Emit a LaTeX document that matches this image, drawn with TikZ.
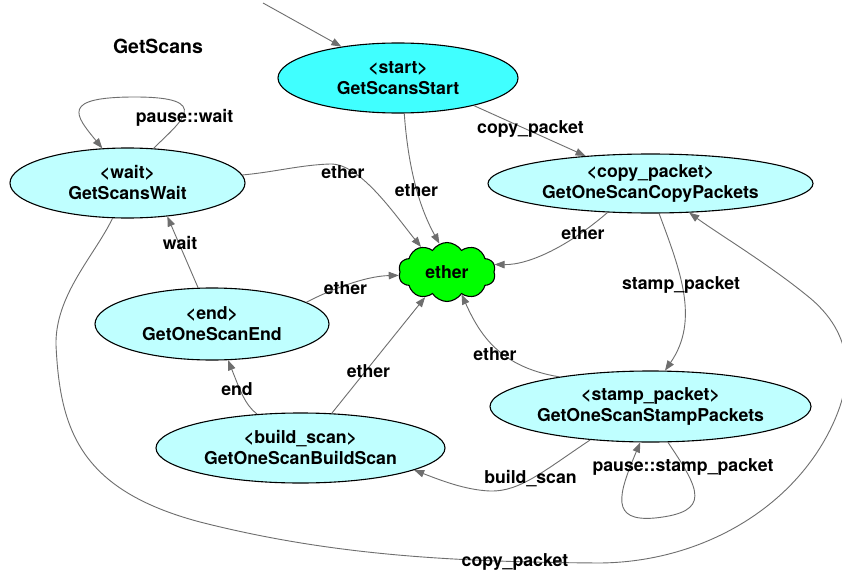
\documentclass[tikz,border=0pt]{standalone}
\usepackage{fontspec}
\setmainfont{TeX Gyre Heros}
\usetikzlibrary{shapes.geometric,shapes.symbols,arrows.meta}
\definecolor{startfill}{RGB}{64,255,255}
\definecolor{statefill}{RGB}{191,255,255}
\definecolor{etherfill}{RGB}{0,255,0}
\definecolor{edgegray}{RGB}{110,110,110}
\tikzset{
  state/.style={ellipse, draw=black, line width=1.1pt, fill=statefill, inner sep=0pt, align=center,
    font=\fontsize{17.7}{21}\selectfont\bfseries},
  edge/.style={draw=edgegray, line width=0.9pt, -{Triangle[length=10pt,width=7.5pt]}},
  lbl/.style={font=\fontsize{17.7}{21}\selectfont\bfseries, inner sep=0pt},
}
\begin{document}
\begin{tikzpicture}[x=1pt,y=-1pt]
\useasboundingbox (0,0) rectangle (842,575);
\fill[white] (0,0) rectangle (842,575);

\node[lbl, font=\fontsize{19.5}{23}\selectfont\bfseries] (title) at (158,46) {GetScans};

\node[state, fill=startfill, minimum width=240pt, minimum height=70pt] (start) at (398,78) {<start>\\GetScansStart};
\node[state, minimum width=235pt, minimum height=70pt] (wait) at (127.5,183) {<wait>\\GetScansWait};
\node[state, minimum width=325pt, minimum height=59pt] (copy) at (650.5,183.5) {<copy\_packet>\\GetOneScanCopyPackets};
\node[state, minimum width=234pt, minimum height=72pt] (end) at (212,324) {<end>\\GetOneScanEnd};
\node[state, minimum width=289pt, minimum height=70pt] (build) at (300.5,448) {<build\_scan>\\GetOneScanBuildScan};
\node[state, minimum width=305pt, minimum height=71pt] (stamp) at (650.5,406.5) {<stamp\_packet>\\GetOneScanStampPackets};
\node[cloud, cloud puffs=10, cloud puff arc=115, aspect=1.64, draw=black, line width=1.1pt, fill=etherfill,
      minimum width=97pt, minimum height=59pt, inner sep=0pt,
      font=\fontsize{17.7}{21}\selectfont\bfseries] (ether) at (447,272) {ether};

\coordinate (in) at (263,3);
\draw[edge] (in) -- (start.151);

% wait self loop
\draw[edge] (wait.53) .. controls (180,122) and (215,97) .. (135,97) .. controls (60,97) and (75,115) .. (wait.126);
\node[lbl] (l1) at (184.5,118) {pause::wait};

% wait -> ether
\draw[edge] (wait.4) .. controls (275,172) and (300,165) .. (330,164) .. controls (360,163) and (395,215) .. (ether.136);
\node[lbl] (l2) at (343,172) {ether};

% start -> ether
\draw[edge] (start.-80) .. controls (408,165) and (418,205) .. (ether.105);
\node[lbl] (l3) at (416.5,190) {ether};

% start -> copy
\draw[edge] (start.-20) -- (copy.157);
\node[lbl] (l4) at (530.5,129) {copy\_packet};

% copy -> ether
\draw[edge] (copy.-146) .. controls (570,245) and (530,265) .. (ether.9);
\node[lbl] (l5) at (583,233) {ether};

% copy -> stamp
\draw[edge] (copy.-74) .. controls (680,270) and (700,320) .. (stamp.68);
\node[lbl] (l6) at (681,285) {stamp\_packet};

% end -> wait
\draw[edge] (end.111) -- (wait.-40);
\node[lbl] (l7) at (180,243) {wait};

% end -> ether
\draw[edge] (end.13) .. controls (340,285) and (370,276) .. (ether.184);
\node[lbl] (l8) at (345.5,288) {ether};

% build -> end
\draw[edge] (build.142) .. controls (245,405) and (240,390) .. (end.-66);
\node[lbl] (l9) at (237,389) {end};

% build -> ether
\draw[edge] (build.48) -- (ether.229);
\node[lbl] (l10) at (368.5,371) {ether};

% stamp -> ether
\draw[edge] (stamp.162) .. controls (500,367) and (480,335) .. (ether.-57);
\node[lbl] (l11) at (495,354) {ether};

% stamp -> build
\draw[edge] (stamp.-151) .. controls (545,470) and (520,492) .. (490,491) .. controls (465,490) and (440,480) .. (build.-11);
\node[lbl] (l12) at (530.5,479) {build\_scan};

% stamp self loop
\draw[edge] (stamp.-64) .. controls (700,490) and (712,512) .. (655,518) .. controls (610,522) and (618,495) .. (stamp.-106);
\node[lbl] (l13) at (683,467) {pause::stamp\_packet};

% wait -> copy (big loop)
\draw[edge] (wait.-113) .. controls (95,255) and (55,295) .. (56,345)
  .. controls (60,430) and (80,490) .. (200,522)
  .. controls (330,555) and (450,562) .. (600,563)
  .. controls (700,562) and (790,510) .. (830,430)
  .. controls (850,390) and (860,340) .. (810,298)
  .. controls (770,265) and (720,235) .. (copy.-37);
\node[lbl] (l14) at (515,562) {copy\_packet};
\end{tikzpicture}
\end{document}
